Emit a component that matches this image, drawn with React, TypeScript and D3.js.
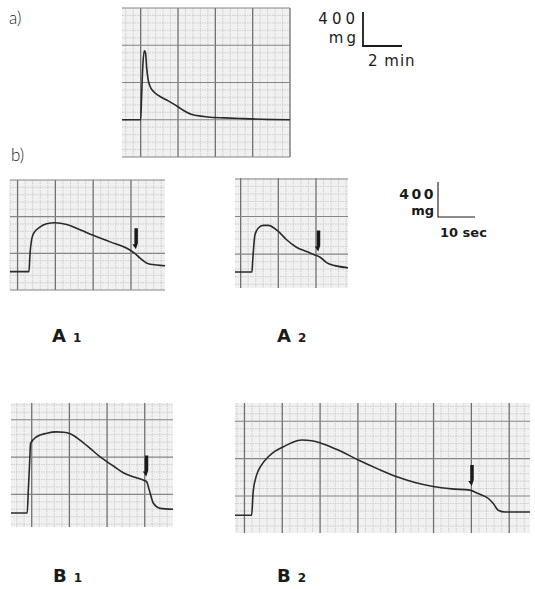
import React, { useEffect, useRef } from 'react';
import * as d3 from 'd3';

type Pt = [number, number];

// panel a: time in min, tension in mg
const traceA: Pt[] = [
  [0, 0], [1.0, 0], [1.05, 250], [1.12, 600], [1.2, 740], [1.26, 720], [1.32, 560],
  [1.4, 430], [1.5, 360], [1.7, 300], [2.0, 255], [2.5, 200], [3.0, 140], [3.3, 100],
  [3.7, 60], [4.0, 45], [4.6, 30], [5.5, 20], [6.5, 12], [7.5, 5], [9, 0],
];

// panels b: time in sec, tension in mg
const traceA1: Pt[] = [
  [0, 0], [5.0, 0], [5.3, 200], [5.7, 343], [6.2, 415], [7.9, 486], [9.7, 522], [11.9, 533],
  [15, 514], [18.5, 457], [22, 397], [26.5, 325], [31.7, 236], [33, 200], [34.4, 147],
  [36.2, 93], [38.8, 72], [41, 64],
];
const traceA2: Pt[] = [
  [0, 0], [4.5, 0], [4.7, 120], [4.9, 236], [5.3, 397], [6.2, 468], [7.5, 496], [8.8, 496],
  [11.5, 432], [13.7, 343], [16.3, 264], [19, 218], [21.2, 182], [22.6, 157], [24.3, 100],
  [26.5, 68], [30, 46],
];
const traceB1: Pt[] = [
  [0, 0], [4.3, 0], [4.6, 250], [4.9, 500], [5.2, 747], [6.8, 818], [9.5, 856], [12, 870],
  [14, 866], [15.7, 850], [18.3, 782], [21, 693], [23.6, 604], [27.2, 504], [29.8, 432], [32.9, 383],
  [35.1, 354], [36, 336], [36.7, 247], [37.8, 104], [39.6, 50], [43, 40],
];
const traceB2: Pt[] = [
  [0, 0], [4.4, 0], [4.8, 250], [5.7, 429], [7.0, 536], [8.8, 625], [10.6, 686], [12.8, 732],
  [15, 775], [17.6, 804], [20.3, 796], [22.9, 768], [27.3, 697], [32.6, 590], [37.9, 493],
  [42.8, 411], [47.6, 350], [52.4, 307], [57.3, 282], [62.1, 268], [64.3, 232], [67, 179],
  [68.3, 125], [69.6, 54], [71.4, 35], [78, 35],
];

// time of the stimulus arrow on each b trace (sec)
const arrowTimes = [33.3, 22.1, 35.9, 62.6];
const panelNames = ['A', 'A', 'B', 'B'];
const panelSubs = ['1', '2', '1', '2'];

interface Panel {
  data: Pt[];
  left: number; right: number; top: number; bottom: number;
  xDomain: [number, number]; yDomain: [number, number];
  xMajor0: number; xStep: number; yMajor0: number; yStep: number;
}

const panels: Panel[] = [
  { data: traceA, left: 122, right: 290, top: 8, bottom: 157,
    xDomain: [0, 9], yDomain: [-400, 1200], xMajor0: 1, xStep: 2, yMajor0: 0, yStep: 400 },
  { data: traceA1, left: 10, right: 165, top: 180, bottom: 290,
    xDomain: [0, 41], yDomain: [-200, 1000], xMajor0: 2, xStep: 10, yMajor0: 200, yStep: 400 },
  { data: traceA2, left: 235, right: 348, top: 178, bottom: 288,
    xDomain: [0, 30], yDomain: [-170, 1000], xMajor0: 1.5, xStep: 10, yMajor0: 190, yStep: 400 },
  { data: traceB1, left: 11, right: 173, top: 403, bottom: 527,
    xDomain: [0, 43], yDomain: [-150, 1180], xMajor0: 5.5, xStep: 10, yMajor0: 200, yStep: 400 },
  { data: traceB2, left: 235, right: 530, top: 403, bottom: 533,
    xDomain: [0, 78], yDomain: [-190, 1200], xMajor0: 2.5, xStep: 10, yMajor0: 205, yStep: 400 },
];

const gridTicks = (d0: number, d1: number, start: number, step: number) => {
  const out: { v: number, major: boolean }[] = [];
  const minor = step / 5;
  const k0 = Math.ceil((d0 - start) / minor);
  const k1 = Math.floor((d1 - start) / minor);
  for (let k = k0; k <= k1; k++) {
    out.push({ v: start + k * minor, major: k % 5 === 0 });
  }
  return out;
};

export default function App() {
  const ref = useRef<SVGSVGElement>(null);

  useEffect(() => {
    const svg = d3.select(ref.current);
    svg.selectAll('*').remove();

    panels.forEach((p, i) => {
      const x = d3.scaleLinear().domain(p.xDomain).range([p.left, p.right]);
      const y = d3.scaleLinear().domain(p.yDomain).range([p.bottom, p.top]);
      const g = svg.append('g');

      // paper
      g.append('rect')
        .attr('x', p.left).attr('y', p.top)
        .attr('width', p.right - p.left).attr('height', p.bottom - p.top)
        .attr('fill', '#f1f1f1');

      const xs = gridTicks(p.xDomain[0], p.xDomain[1], p.xMajor0, p.xStep);
      const ys = gridTicks(p.yDomain[0], p.yDomain[1], p.yMajor0, p.yStep);

      g.selectAll('.vminor')
        .data(xs.filter(d => !d.major))
        .enter().append('line')
        .attr('x1', d => x(d.v)).attr('x2', d => x(d.v))
        .attr('y1', p.top).attr('y2', p.bottom)
        .attr('stroke', '#c4c4c4').attr('stroke-width', 0.8)
        .attr('stroke-dasharray', '1.5,1');
      g.selectAll('.hminor')
        .data(ys.filter(d => !d.major))
        .enter().append('line')
        .attr('y1', d => y(d.v)).attr('y2', d => y(d.v))
        .attr('x1', p.left).attr('x2', p.right)
        .attr('stroke', '#c4c4c4').attr('stroke-width', 0.8)
        .attr('stroke-dasharray', '1.5,1');
      g.selectAll('.vmajor')
        .data(xs.filter(d => d.major))
        .enter().append('line')
        .attr('x1', d => x(d.v)).attr('x2', d => x(d.v))
        .attr('y1', p.top).attr('y2', p.bottom)
        .attr('stroke', '#707070').attr('stroke-width', 1.3);
      g.selectAll('.hmajor')
        .data(ys.filter(d => d.major))
        .enter().append('line')
        .attr('y1', d => y(d.v)).attr('y2', d => y(d.v))
        .attr('x1', p.left).attr('x2', p.right)
        .attr('stroke', '#858585').attr('stroke-width', 1.1);

      const line = d3.line<Pt>()
        .x(d => x(d[0]))
        .y(d => y(d[1]))
        .curve(d3.curveMonotoneX);
      g.append('path')
        .datum(p.data)
        .attr('d', line)
        .attr('fill', 'none')
        .attr('stroke', '#2a2a2a')
        .attr('stroke-width', 1.6);

      if (i > 0) {
        const t = arrowTimes[i - 1];
        const bis = d3.bisector((d: Pt) => d[0]).left;
        const j = bis(p.data, t);
        const a = p.data[j - 1], b = p.data[j];
        const v = a[1] + (b[1] - a[1]) * (t - a[0]) / (b[0] - a[0]);
        const ax = x(t);
        const tip = y(v) - 5;
        const top = tip - 21;
        g.append('path')
          .attr('d', `M${ax - 1.5},${top} L${ax + 2},${top} L${ax + 2},${tip - 6} L${ax},${tip} L${ax - 3.5},${tip - 5} L${ax - 1.5},${tip - 5} Z`)
          .attr('fill', '#1a1a1a');

        svg.append('text')
          .attr('x', p.left + 42)
          .attr('y', i < 3 ? 342 : 582)
          .attr('font-family', 'DejaVu Sans, sans-serif')
          .attr('font-size', 18)
          .attr('font-weight', 'bold')
          .attr('fill', '#1a1a1a')
          .text(panelNames[i - 1])
          .append('tspan')
          .attr('dx', 7)
          .attr('font-size', 12)
          .text(panelSubs[i - 1]);
      }
    });

    const txt = (tx: number, ty: number, s: string, size: number, anchor = 'start', ls = 0, weight = 'normal') =>
      svg.append('text')
        .attr('x', tx).attr('y', ty)
        .attr('text-anchor', anchor)
        .attr('font-family', 'DejaVu Sans, sans-serif')
        .attr('font-size', size)
        .attr('font-weight', weight)
        .attr('letter-spacing', ls)
        .attr('fill', '#1a1a1a')
        .text(s);

    // panel labels
    txt(9, 24, 'a)', 17).attr('font-weight', 300).attr('font-family', 'Lato, sans-serif');
    txt(11, 161, 'b)', 17).attr('font-weight', 300).attr('font-family', 'Lato, sans-serif');

    // scale bar a
    svg.append('path').attr('d', 'M363,12 L363,46 L402,46')
      .attr('fill', 'none').attr('stroke', '#1a1a1a').attr('stroke-width', 1.8);
    txt(359, 24, '400', 15, 'end', 4);
    txt(359, 43, 'mg', 15, 'end', 3);
    txt(368, 66, '2 min', 15, 'start', 1);

    // scale bar b
    svg.append('path').attr('d', 'M438,182 L438,217 L475,217')
      .attr('fill', 'none').attr('stroke', '#1a1a1a').attr('stroke-width', 1.1);
    txt(436, 199, '400', 14, 'end', 2.5, 'bold');
    txt(434, 215, 'mg', 13, 'end', 0, 'bold');
    txt(440, 237, '10 sec', 13, 'start', 0, 'bold');
  }, []);

  return (
    <svg ref={ref} width={535} height={589}
      style={{ position: 'absolute', left: 0, top: 0, background: '#fff' }} />
  );
}
